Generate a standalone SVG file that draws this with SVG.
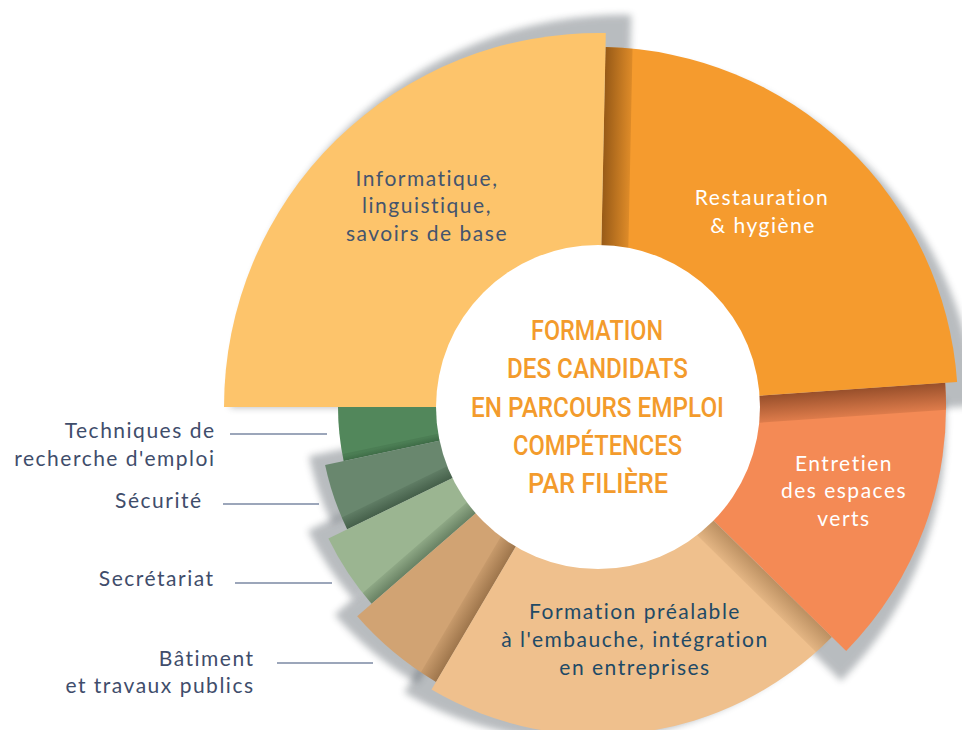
<svg xmlns="http://www.w3.org/2000/svg" xmlns:xlink="http://www.w3.org/1999/xlink" width="962" height="730" viewBox="0 0 962 730">
<defs>
<style>
.lbl{font-family:"Lato","Open Sans","DejaVu Sans",sans-serif;font-size:21px;letter-spacing:1.5px;fill:#44546e;}
.lbl-w{font-family:"Lato","Open Sans","DejaVu Sans",sans-serif;font-size:21px;letter-spacing:1.5px;fill:#ffffff;}
.lbl-d{font-family:"Lato","Open Sans","DejaVu Sans",sans-serif;font-size:21px;letter-spacing:1.5px;fill:#1f4a66;}
.side{font-family:"Lato","Open Sans","DejaVu Sans",sans-serif;font-size:21px;letter-spacing:1.5px;fill:#3f4d6b;text-anchor:end;}
.title{font-family:"Roboto","DejaVu Sans",sans-serif;font-weight:500;font-size:28px;fill:#f39b2c;}
.lead{stroke:#7b88a3;stroke-width:1.5;fill:none;}
.halo{fill:#3c4650;opacity:0.36;filter:url(#blur);}
</style>
<filter id="blur" x="-20%" y="-20%" width="140%" height="140%"><feGaussianBlur stdDeviation="3.5"/></filter>
<path id="p-info" d="M598,407 L224,407 A374,374 0 0 1 605.8,33.1 Z"/>
<path id="p-rest" d="M598,407 L605.5,47.1 A360,360 0 0 1 957.1,381.9 Z"/>
<path id="p-entr" d="M598,407 L945.2,382.7 A348,348 0 0 1 846.2,650.9 Z"/>
<path id="p-form" d="M598,407 L831.9,636.9 A328,328 0 0 1 431.5,689.6 Z"/>
<path id="p-bat" d="M598,407 L436.1,681.9 A319,319 0 0 1 357.2,616.3 Z"/>
<path id="p-secr" d="M598,407 L371.6,603.8 A300,300 0 0 1 328.4,538.5 Z"/>
<path id="p-secu" d="M598,407 L347.2,529.3 A279,279 0 0 1 325.1,465 Z"/>
<path id="p-tech" d="M598,407 L343.7,461.1 A260,260 0 0 1 338,407 Z"/>
<clipPath id="c-rest"><use xlink:href="#p-rest"/></clipPath>
<clipPath id="c-entr"><use xlink:href="#p-entr"/></clipPath>
<clipPath id="c-form"><use xlink:href="#p-form"/></clipPath>
<clipPath id="c-bat"><use xlink:href="#p-bat"/></clipPath>
<clipPath id="c-secr"><use xlink:href="#p-secr"/></clipPath>
<clipPath id="c-secu"><use xlink:href="#p-secu"/></clipPath>
<clipPath id="c-tech"><use xlink:href="#p-tech"/></clipPath>
<linearGradient id="g1" gradientUnits="userSpaceOnUse" x1="598" y1="407" x2="625" y2="407.6"><stop offset="0" stop-color="#3b1a00" stop-opacity="0.5"/><stop offset="1" stop-color="#3b1a00" stop-opacity="0.12"/></linearGradient>
<linearGradient id="g2" gradientUnits="userSpaceOnUse" x1="598" y1="407" x2="599.9" y2="433.9"><stop offset="0" stop-color="#3b1400" stop-opacity="0.5"/><stop offset="1" stop-color="#3b1400" stop-opacity="0.12"/></linearGradient>
<linearGradient id="g3" gradientUnits="userSpaceOnUse" x1="598" y1="407" x2="582.6" y2="422.7"><stop offset="0" stop-color="#5a3510" stop-opacity="0.35"/><stop offset="1" stop-color="#5a3510" stop-opacity="0.08"/></linearGradient>
<linearGradient id="g4" gradientUnits="userSpaceOnUse" x1="598" y1="407" x2="582.5" y2="397.9"><stop offset="0" stop-color="#4a2a0a" stop-opacity="0.38"/><stop offset="1" stop-color="#4a2a0a" stop-opacity="0.08"/></linearGradient>
<linearGradient id="g5" gradientUnits="userSpaceOnUse" x1="598" y1="407" x2="588.8" y2="396.4"><stop offset="0" stop-color="#1e3520" stop-opacity="0.4"/><stop offset="1" stop-color="#1e3520" stop-opacity="0.1"/></linearGradient>
<linearGradient id="g6" gradientUnits="userSpaceOnUse" x1="598" y1="407" x2="592.3" y2="395.3"><stop offset="0" stop-color="#102515" stop-opacity="0.4"/><stop offset="1" stop-color="#102515" stop-opacity="0.1"/></linearGradient>
<linearGradient id="g7" gradientUnits="userSpaceOnUse" x1="598" y1="407" x2="596.5" y2="400.2"><stop offset="0" stop-color="#0f2a15" stop-opacity="0.35"/><stop offset="1" stop-color="#0f2a15" stop-opacity="0.1"/></linearGradient>
</defs>

<g id="halos">
<use xlink:href="#p-info" class="halo" transform="matrix(1.05 0 0 1.05 -4.9 -19.85)"/>
<use xlink:href="#p-rest" class="halo" transform="matrix(1.05 0 0 1.05 -28.2 4.55)"/>
<use xlink:href="#p-entr" class="halo" transform="matrix(1.05 0 0 1.05 -47.4 -2.55)"/>
<use xlink:href="#p-form" class="halo" transform="matrix(1.05 0 0 1.05 -48.9 -31.55)"/>
<use xlink:href="#p-bat" class="halo" transform="matrix(1.05 0 0 1.05 -40.4 -32.45)"/>
<use xlink:href="#p-secr" class="halo" transform="matrix(1.05 0 0 1.05 -36.9 -34.75)"/>
<use xlink:href="#p-secu" class="halo" transform="matrix(1.05 0 0 1.05 -32.4 -32.05)"/>
</g>

<g id="tech"><use xlink:href="#p-tech" fill="#52875b"/></g>
<g id="secu"><use xlink:href="#p-secu" fill="#69876e"/></g>
<g id="secr"><use xlink:href="#p-secr" fill="#9bb591"/></g>
<g id="bat"><use xlink:href="#p-bat" fill="#d1a373"/></g>
<g id="form"><use xlink:href="#p-form" fill="#efc08d"/></g>
<g id="entr"><use xlink:href="#p-entr" fill="#f48a55"/></g>
<g id="rest"><use xlink:href="#p-rest" fill="#f59b2e"/></g>
<g id="info"><use xlink:href="#p-info" fill="#fdc46b"/></g>

<g id="strips">
<polygon clip-path="url(#c-rest)" fill="url(#g1)" points="598,407 606.4,7.1 633.4,7.7 625,407.6"/>
<polygon clip-path="url(#c-entr)" fill="url(#g2)" points="598,407 997,379.1 998.9,406 599.9,433.9"/>
<polygon clip-path="url(#c-form)" fill="url(#g3)" points="598,407 883.3,687.4 867.9,703.1 582.6,422.7"/>
<polygon clip-path="url(#c-bat)" fill="url(#g4)" points="598,407 395,751.6 379.5,742.5 582.5,397.9"/>
<polygon clip-path="url(#c-secr)" fill="url(#g5)" points="598,407 296.1,669.4 286.9,658.8 588.8,396.4"/>
<polygon clip-path="url(#c-secu)" fill="url(#g6)" points="598,407 238.5,582.4 232.8,570.7 592.3,395.3"/>
<polygon clip-path="url(#c-tech)" fill="url(#g7)" points="598,407 206.8,490.2 205.3,483.3 596.5,400.2"/>
</g>

<g id="center">
<circle cx="598" cy="407" r="162" fill="#ffffff"/>
<text class="title" x="531" y="340" textLength="132" lengthAdjust="spacingAndGlyphs">FORMATION</text>
<text class="title" x="507" y="378" textLength="181" lengthAdjust="spacingAndGlyphs">DES CANDIDATS</text>
<text class="title" x="471" y="417" textLength="253" lengthAdjust="spacingAndGlyphs">EN PARCOURS EMPLOI</text>
<text class="title" x="513" y="455" textLength="169" lengthAdjust="spacingAndGlyphs">COMPÉTENCES</text>
<text class="title" x="528" y="493" textLength="140" lengthAdjust="spacingAndGlyphs">PAR FILIÈRE</text>
</g>

<g id="labels" text-anchor="middle">
<text class="lbl" x="427" y="186">Informatique,</text>
<text class="lbl" x="427" y="213">linguistique,</text>
<text class="lbl" x="427" y="241">savoirs de base</text>
<text class="lbl-w" x="762" y="205">Restauration</text>
<text class="lbl-w" x="763" y="233">&amp; hygiène</text>
<text class="lbl-w" x="844" y="471">Entretien</text>
<text class="lbl-w" x="844" y="498">des espaces</text>
<text class="lbl-w" x="844" y="526">verts</text>
<text class="lbl-d" x="635" y="619">Formation préalable</text>
<text class="lbl-d" x="635" y="647">à l'embauche, intégration</text>
<text class="lbl-d" x="635" y="675">en entreprises</text>
</g>

<g id="side-labels">
<text class="side" x="215.5" y="438">Techniques de</text>
<text class="side" x="215.5" y="466">recherche d'emploi</text>
<text class="side" x="202.5" y="508">Sécurité</text>
<text class="side" x="214.5" y="586">Secrétariat</text>
<text class="side" x="254.5" y="666">Bâtiment</text>
<text class="side" x="254.5" y="693">et travaux publics</text>
</g>

<g id="connectors">
<line class="lead" x1="230" y1="434" x2="327" y2="434"/>
<line class="lead" x1="223" y1="504" x2="319" y2="504"/>
<line class="lead" x1="235" y1="583" x2="332" y2="583"/>
<line class="lead" x1="277" y1="663" x2="373" y2="663"/>
</g>
</svg>
